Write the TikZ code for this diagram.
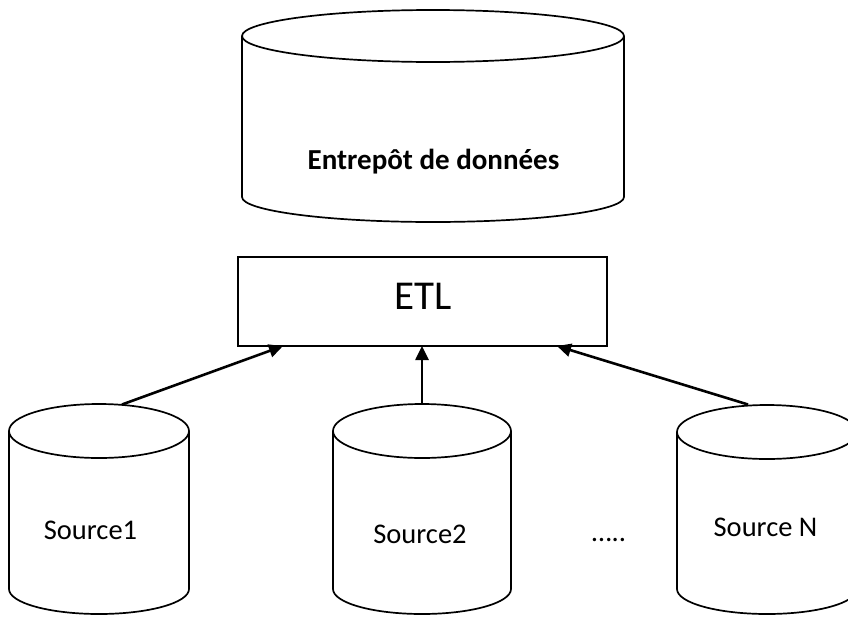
\documentclass[tikz,border=0pt]{standalone}
\usepackage{fontspec}
\setmainfont{Carlito}
\usetikzlibrary{arrows.meta}
\begin{document}
\begin{tikzpicture}[x=1pt,y=-1pt,
  cyl/.style={draw=black,line width=1.7pt,fill=white},
  etlbox/.style={draw=black,line width=2.2pt,fill=white,inner sep=0pt},
  flow/.style={line width=2.6pt,-{Triangle[length=14pt,width=13pt]}},
  srclabel/.style={anchor=base,inner sep=0pt,font=\fontsize{28.5}{33}\selectfont},
]
\useasboundingbox (0,0) rectangle (848,616);
\clip (0,0) rectangle (848,616);
\fill[white] (0,0) rectangle (848,616);

% big warehouse cylinder
\draw[cyl] (242,36) -- (242,197) arc[start angle=180,end angle=0,x radius=191,y radius=25] -- (624,36);
\draw[cyl] (433,36) ellipse[x radius=191,y radius=26];
\node[anchor=base,inner sep=0pt,font=\fontsize{29}{34}\selectfont\bfseries] (dw) at (433.5,169.5) {Entrepôt de données};

% ETL box
\node[etlbox,minimum width=369pt,minimum height=89pt] (etl) at (422.5,301.5) {};
\node[anchor=base,inner sep=0pt,font=\fontsize{41}{48}\selectfont] (etltext) at (423,309) {ETL};

% source cylinders
\draw[cyl] (9,431) -- (9,589) arc[start angle=180,end angle=0,x radius=90,y radius=25] -- (189,431);
\draw[cyl] (99,431) ellipse[x radius=90,y radius=27];
\node[srclabel] (s1) at (90.5,539) {Source1};

\draw[cyl] (333,431) -- (333,589) arc[start angle=180,end angle=0,x radius=89,y radius=25] -- (511,431);
\draw[cyl] (422,431) ellipse[x radius=89,y radius=27];
\node[srclabel] (s2) at (420,543) {Source2};

\draw[cyl] (677,432) -- (677,589) arc[start angle=180,end angle=0,x radius=90,y radius=25] -- (857,432);
\draw[cyl] (767,432) ellipse[x radius=90,y radius=27];
\node[srclabel] (sn) at (765.5,536) {Source N};

\node[srclabel] (dots) at (609,541) {…..};

% connector end points
\coordinate (s1top) at (122,404.5);
\coordinate (s2top) at (422,404);
\coordinate (sntop) at (748,404.5);
\coordinate (e1) at (283,346);
\coordinate (e2) at (422,346);
\coordinate (e3) at (557,346);

\draw[flow] (s1top) -- (e1);
\draw[flow] (s2top) -- (e2);
\draw[flow] (sntop) -- (e3);
\end{tikzpicture}
\end{document}
